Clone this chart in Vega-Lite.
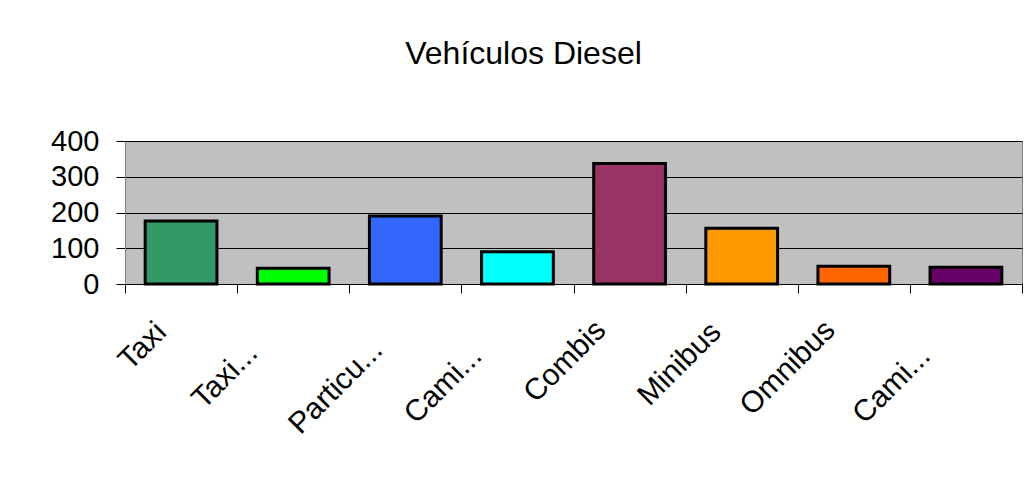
{
  "$schema": "https://vega.github.io/schema/vega-lite/v6.json",
  "width": 897,
  "height": 143,
  "autosize": {"type": "none"},
  "padding": {"left": 125, "top": 141, "right": 4, "bottom": 211},
  "background": "white",
  "title": {
    "text": "Vehículos Diesel",
    "font": "Liberation Sans",
    "fontSize": 32,
    "fontWeight": "normal",
    "color": "black",
    "anchor": "middle",
    "dx": -50,
    "baseline": "alphabetic",
    "offset": 31
  },
  "config": {
    "view": {"fill": "#C0C0C0", "stroke": "#808080", "strokeWidth": 1},
    "axis": {"labelFont": "Liberation Sans", "labelColor": "black"}
  },
  "data": {
    "values": [
      {"id": "1", "label": "Taxi", "value": 176, "color": "#339966"},
      {"id": "2", "label": "Taxi...", "value": 44, "color": "#00FF00"},
      {"id": "3", "label": "Particu...", "value": 190, "color": "#3366FF"},
      {"id": "4", "label": "Cami...", "value": 90, "color": "#00FFFF"},
      {"id": "5", "label": "Combis", "value": 337, "color": "#993366"},
      {"id": "6", "label": "Minibus", "value": 156, "color": "#FF9900"},
      {"id": "7", "label": "Omnibus", "value": 50, "color": "#FF6600"},
      {"id": "8", "label": "Cami...", "value": 47, "color": "#660066"}
    ]
  },
  "mark": {"type": "bar", "width": {"band": 0.64}, "stroke": "black", "strokeWidth": 3},
  "encoding": {
    "x": {
      "field": "id",
      "type": "nominal",
      "sort": null,
      "title": null,
      "scale": {"paddingInner": 0, "paddingOuter": 0},
      "axis": {
        "labelExpr": "['Taxi','Taxi...','Particu...','Cami...','Combis','Minibus','Omnibus','Cami...'][toNumber(datum.value)-1]",
        "labelAngle": -45,
        "labelAlign": "right",
        "labelBaseline": "middle",
        "labelFontSize": 30,
        "labelPadding": {
          "condition": [
            {"test": "datum.value == '1'", "value": 34},
            {"test": "datum.value == '2'", "value": 55},
            {"test": "datum.value == '3'", "value": 52},
            {"test": "datum.value == '4' || datum.value == '8'", "value": 58},
            {"test": "datum.value == '6'", "value": 34}
          ],
          "value": 32
        },
        "labelOffset": {
          "condition": [
            {"test": "datum.value == '1'", "value": -20},
            {"test": "datum.value == '2' || datum.value == '4' || datum.value == '8'", "value": -41},
            {"test": "datum.value == '3'", "value": -28},
            {"test": "datum.value == '6'", "value": -26},
            {"test": "datum.value == '7'", "value": -24}
          ],
          "value": -29
        },
        "tickBand": "extent",
        "tickSize": 9,
        "tickColor": "black",
        "domainColor": "black",
        "grid": false
      }
    },
    "y": {
      "field": "value",
      "type": "quantitative",
      "title": null,
      "scale": {"domain": [0, 400], "nice": false},
      "axis": {
        "values": [0, 100, 200, 300, 400],
        "labelFontSize": 29,
        "labelPadding": 17,
        "tickSize": 9,
        "tickColor": "black",
        "domainColor": "#808080",
        "grid": true,
        "gridColor": "black",
        "gridOpacity": 1,
        "labelBaseline": "middle"
      }
    },
    "fill": {"field": "color", "type": "nominal", "scale": null, "legend": null}
  }
}
